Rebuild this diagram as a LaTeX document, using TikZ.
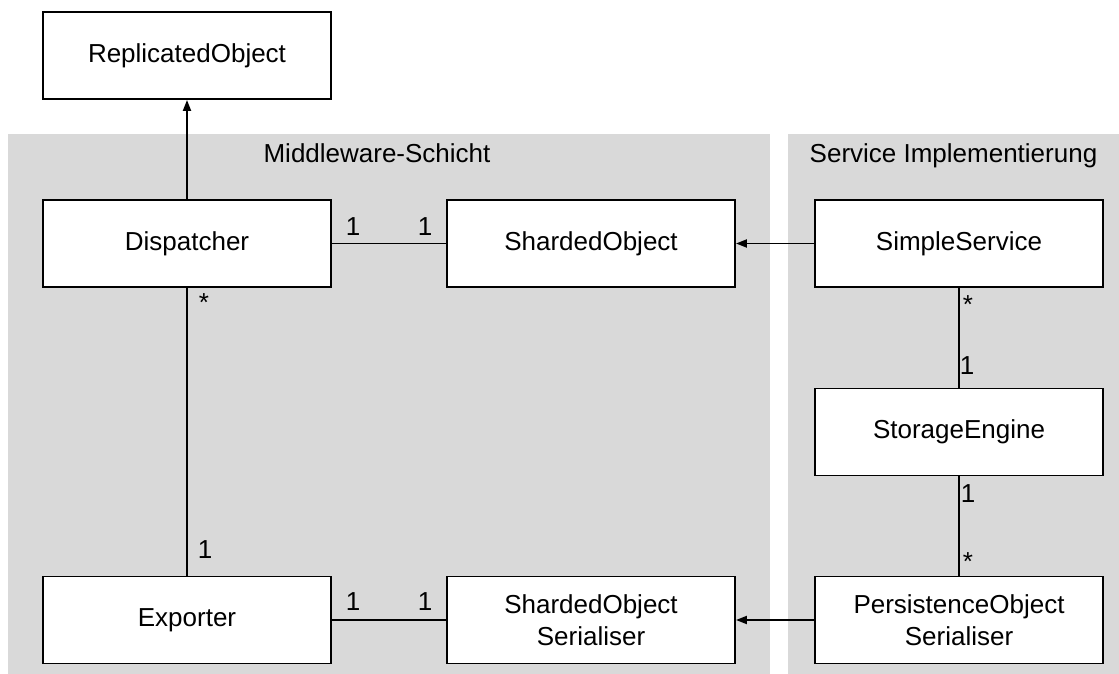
\documentclass[tikz,border=0pt]{standalone}
\usepackage{fontspec}
\setmainfont{Liberation Sans}
\usetikzlibrary{arrows.meta}
\definecolor{layergrey}{RGB}{217,217,217}
\tikzset{
  classbox/.style={draw=black, fill=white, line width=1.9pt, minimum width=288pt,
    minimum height=87pt, inner sep=0pt, align=center,
    font=\fontsize{26}{32}\selectfont},
  layer/.style={fill=layergrey, draw=none},
  layertitle/.style={anchor=base, inner sep=0pt, font=\fontsize{26}{32}\selectfont},
  mult/.style={anchor=base, inner sep=0pt, font=\fontsize{26}{32}\selectfont},
  assoc/.style={line width=1.9pt},
  inherit/.style={line width=1.9pt, -{Triangle[length=11pt,width=8pt]}},
}
\begin{document}
\begin{tikzpicture}[x=1pt,y=-1pt]
  \useasboundingbox (0,0) rectangle (1119,674);

  % layers
  \fill[layer] (8,134) rectangle (770,674);
  \fill[layer] (788,134) rectangle (1119,674);
  \node[layertitle] (mwtitle) at (377,163) {Middleware-Schicht};
  \node[layertitle] (sititle) at (953.5,163) {Service Implementierung};

  % classes
  \node[classbox] (repl)    at (187,55.5)  {ReplicatedObject};
  \node[classbox] (disp)    at (187,243.5) {Dispatcher};
  \node[classbox] (shard)   at (591,243.5) {ShardedObject};
  \node[classbox] (simple)  at (959,243.5) {SimpleService};
  \node[classbox] (storage) at (959,432)   {StorageEngine};
  \node[classbox] (export)  at (187,620)   {Exporter};
  \node[classbox] (sos)     at (591,620)   {ShardedObject\\Serialiser};
  \node[classbox] (pos)     at (959,620)   {PersistenceObject\\Serialiser};

  % generalisations
  \draw[inherit] (disp) -- (repl);
  \draw[inherit] (simple) -- (shard);
  \draw[inherit] (pos) -- (sos);

  % associations
  \draw[assoc] (disp) -- (shard);
  \draw[assoc] (disp) -- (export);
  \draw[assoc] (export) -- (sos);
  \draw[assoc] (simple) -- (storage);
  \draw[assoc] (storage) -- (pos);

  % multiplicities
  \node[mult] (m1) at (353,235) {1};
  \node[mult] (m2) at (425,235) {1};
  \node[mult] (m3) at (204,311) {*};
  \node[mult] (m4) at (205,558) {1};
  \node[mult] (m5) at (353,610) {1};
  \node[mult] (m6) at (425,610) {1};
  \node[mult] (m7) at (968,313) {*};
  \node[mult] (m8) at (967,374) {1};
  \node[mult] (m9) at (968,502) {1};
  \node[mult] (m10) at (968,570) {*};
\end{tikzpicture}
\end{document}
